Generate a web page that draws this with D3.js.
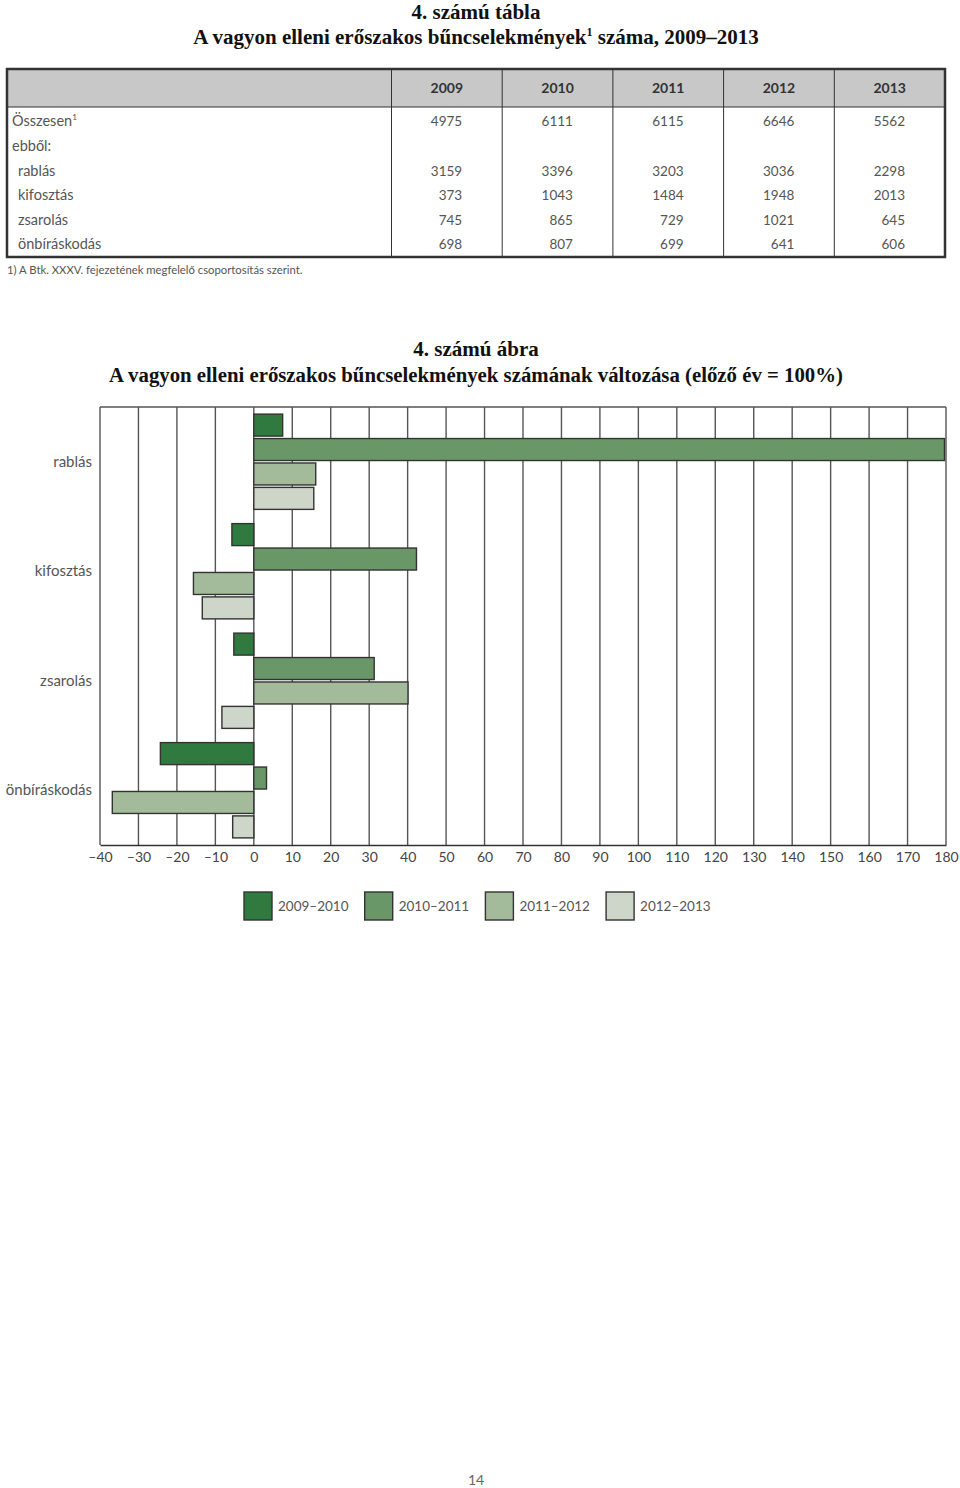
<!DOCTYPE html>
<html><head><meta charset="utf-8">
<script src="https://cdn.jsdelivr.net/npm/d3@7"></script>
<style>body{margin:0;background:#fff}svg{display:block}</style>
</head><body>
<script>
// ---- Table data ----
const tableYears = ["2009","2010","2011","2012","2013"];
const tableRows = ["Összesen", "ebből:", "rablás", "kifosztás", "zsarolás", "önbíráskodás"];
const rowTotal = [4975, 6111, 6115, 6646, 5562];
const rowRablas = [3159, 3396, 3203, 3036, 2298];
const rowKifosztas = [373, 1043, 1484, 1948, 2013];
const rowZsarolas = [745, 865, 729, 1021, 645];
const rowOnbir = [698, 807, 699, 641, 606];

// ---- Chart data ----
const categories = ["rablás", "kifosztás", "zsarolás", "önbíráskodás"];
const seriesNames = ["2009–2010", "2010–2011", "2011–2012", "2012–2013"];
const s1 = [7.5, -5.7, -5.2, -24.3];
const s2 = [179.6, 42.3, 31.3, 3.3];
const s3 = [16.1, -15.7, 40.1, -36.8];
const s4 = [15.6, -13.4, -8.3, -5.5];
const xTicks = d3.range(-40, 181, 10);
const colors = ["#317a3f", "#6a9767", "#a3bb9b", "#cdd6c9"];

const W = 960, H = 1488;
const svg = d3.select("body").append("svg").attr("width", W).attr("height", H);
const serif = "'Liberation Serif', 'DejaVu Serif', serif";
const sans = "Lato, 'Open Sans', sans-serif";

// ---- Table title ----
svg.append("text").attr("x", 476).attr("y", 19).attr("text-anchor", "middle")
  .attr("font-family", serif).attr("font-weight", "bold").attr("font-size", 21).attr("fill", "#111")
  .text("4. számú tábla");
const t2 = svg.append("text").attr("x", 476).attr("y", 44).attr("text-anchor", "middle")
  .attr("font-family", serif).attr("font-weight", "bold").attr("font-size", 21).attr("fill", "#111");
t2.append("tspan").text("A vagyon elleni erőszakos bűncselekmények");
t2.append("tspan").attr("font-size", 12).attr("dy", -8).text("1");
t2.append("tspan").attr("dy", 8).text(" száma, 2009–2013");

// ---- Table ----
const tLeft = 7, tRight = 945, tTop = 69, headBot = 107, tBot = 257;
const colX = d3.scaleBand().domain(tableYears).range([391.5, tRight]);
svg.append("rect").attr("x", tLeft).attr("y", tTop).attr("width", tRight - tLeft).attr("height", headBot - tTop)
  .attr("fill", "#c8c8c8");
svg.append("line").attr("x1", tLeft).attr("x2", tRight).attr("y1", headBot).attr("y2", headBot)
  .attr("stroke", "#333").attr("stroke-width", 1);
tableYears.forEach(y => {
  svg.append("line").attr("x1", colX(y)).attr("x2", colX(y)).attr("y1", tTop).attr("y2", tBot)
    .attr("stroke", "#333").attr("stroke-width", 1);
});
svg.append("rect").attr("x", tLeft).attr("y", tTop).attr("width", tRight - tLeft).attr("height", tBot - tTop)
  .attr("fill", "none").attr("stroke", "#333").attr("stroke-width", 2.5);
svg.selectAll("text.yh").data(tableYears).enter().append("text")
  .attr("x", d => colX(d) + colX.bandwidth() / 2).attr("y", 93).attr("text-anchor", "middle")
  .attr("font-family", sans).attr("font-weight", "bold").attr("font-size", 14).attr("fill", "#333")
  .text(d => d);
const rowData = [rowTotal, null, rowRablas, rowKifosztas, rowZsarolas, rowOnbir];
const rowY = [126, 151, 176, 200, 225, 249];
tableRows.forEach((r, i) => {
  const tx = svg.append("text").attr("x", i < 2 ? 12 : 18).attr("y", rowY[i])
    .attr("font-family", sans).attr("font-size", 14.5).attr("fill", "#555");
  tx.append("tspan").text(r);
  if (i === 0) tx.append("tspan").attr("font-size", 8).attr("dy", -6).text("1");
  if (rowData[i]) {
    rowData[i].forEach((v, j) => {
      svg.append("text").attr("x", colX(tableYears[j]) + colX.bandwidth() - 40).attr("y", rowY[i])
        .attr("text-anchor", "end").attr("font-family", sans).attr("font-size", 13.5).attr("fill", "#555")
        .text(v);
    });
  }
});
svg.append("text").attr("x", 7).attr("y", 274).attr("font-family", sans).attr("font-size", 11.3)
  .attr("fill", "#555").text("1) A Btk. XXXV. fejezetének megfelelő csoportosítás szerint.");

// ---- Chart title ----
svg.append("text").attr("x", 476).attr("y", 356).attr("text-anchor", "middle")
  .attr("font-family", serif).attr("font-weight", "bold").attr("font-size", 21).attr("fill", "#111")
  .text("4. számú ábra");
svg.append("text").attr("x", 476).attr("y", 382).attr("text-anchor", "middle")
  .attr("font-family", serif).attr("font-weight", "bold").attr("font-size", 20.8).attr("fill", "#111")
  .text("A vagyon elleni erőszakos bűncselekmények számának változása (előző év = 100%)");

// ---- Chart ----
const pL = 100, pR = 946, pT = 407, pB = 845;
const x = d3.scaleLinear().domain([-40, 180]).range([pL, pR]);
const y0 = d3.scaleBand().domain(categories).range([pT, pB]).paddingInner(0.13).paddingOuter(0.065);
const y1 = d3.scaleBand().domain(seriesNames).range([0, y0.bandwidth()]).paddingInner(0.1).paddingOuter(0);
const series = [s1, s2, s3, s4];

// grid
svg.append("g").selectAll("line").data(xTicks).enter().append("line")
  .attr("x1", d => x(d)).attr("x2", d => x(d)).attr("y1", pT).attr("y2", pB)
  .attr("stroke", "#555").attr("stroke-width", 1.4);
svg.append("line").attr("x1", pL).attr("x2", pR).attr("y1", pT).attr("y2", pT).attr("stroke", "#555").attr("stroke-width", 1.4);

// bars
const rows = [];
categories.forEach((c, ci) => series.forEach((s, si) => rows.push({ c, s: seriesNames[si], si, v: s[ci] })));
svg.append("g").selectAll("rect").data(rows).enter().append("rect")
  .attr("x", d => x(Math.min(0, d.v))).attr("width", d => Math.abs(x(d.v) - x(0)))
  .attr("y", d => y0(d.c) + y1(d.s)).attr("height", y1.bandwidth())
  .attr("fill", d => colors[d.si]).attr("stroke", "#333").attr("stroke-width", 1.4);

// x axis
const ax = svg.append("g").attr("transform", `translate(0,${pB})`)
  .call(d3.axisBottom(x).tickValues(xTicks).tickSize(0).tickPadding(7)
    .tickFormat(d => d < 0 ? "–" + Math.abs(d) : String(d)));
ax.select(".domain").attr("stroke", "#333").attr("stroke-width", 1.6);
ax.selectAll("text").attr("font-family", sans).attr("font-size", 14).attr("fill", "#444");

// category labels
svg.append("g").selectAll("text").data(categories).enter().append("text")
  .attr("x", 92).attr("y", d => y0(d) + y0.bandwidth() / 2 + 5).attr("text-anchor", "end")
  .attr("font-family", sans).attr("font-size", 15).attr("fill", "#555").text(d => d);

// legend
const lg = svg.append("g").selectAll("g").data(seriesNames).enter().append("g")
  .attr("transform", (d, i) => `translate(${244 + i * 120.7},892)`);
lg.append("rect").attr("width", 28).attr("height", 28).attr("fill", (d, i) => colors[i])
  .attr("stroke", "#333").attr("stroke-width", 1.4);
lg.append("text").attr("x", 34).attr("y", 19).attr("font-family", sans).attr("font-size", 13.5)
  .attr("fill", "#555").text(d => d);

// page number
svg.append("text").attr("x", 476).attr("y", 1485).attr("text-anchor", "middle")
  .attr("font-family", sans).attr("font-size", 14).attr("fill", "#666").text("14");
</script>
</body></html>
